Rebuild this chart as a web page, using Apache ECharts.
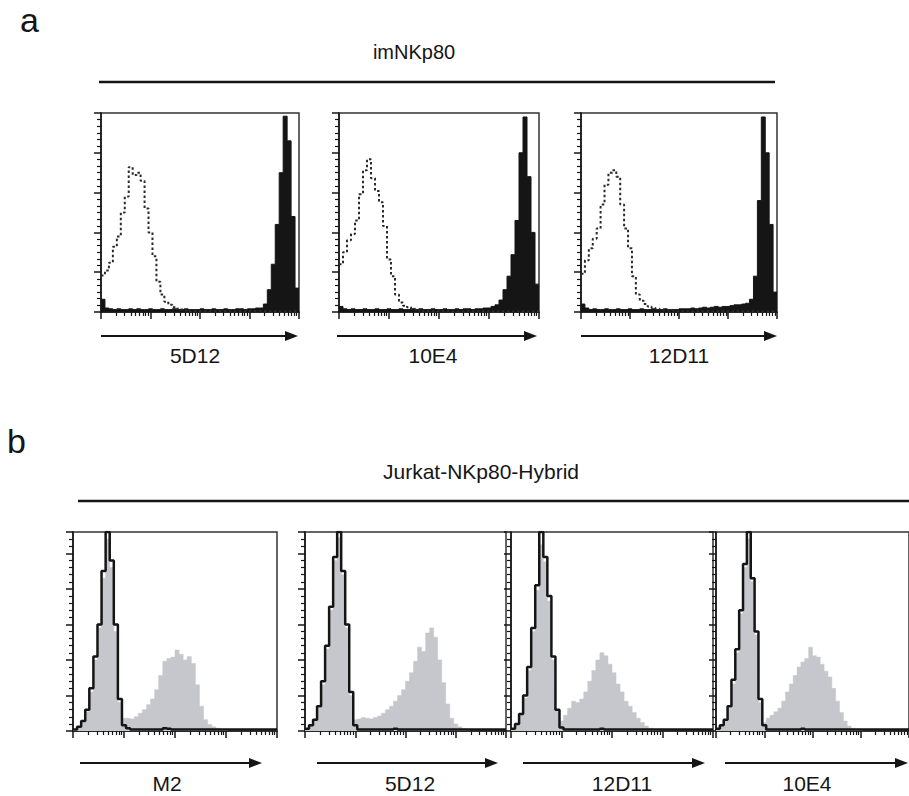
<!DOCTYPE html>
<html>
<head>
<meta charset="utf-8">
<script src="https://cdn.jsdelivr.net/npm/echarts@6/dist/echarts.min.js"></script>
<style>
  html, body { margin: 0; padding: 0; background: #ffffff; }
  #chart { width: 909px; height: 796px; }
</style>
</head>
<body>
<div id="chart"></div>
<script>
// Fluorescence intensity: 4 log decades, 50 channels per histogram
const DECADES = 4;

const groupTitles = ['imNKp80', 'Jurkat-NKp80-Hybrid'];
const panelLetters = ['a', 'b'];
const stainLabelsA = ['5D12', '10E4', '12D11'];
const stainLabelsB = ['M2', '5D12', '12D11', '10E4'];

// Panel a: isotype control (dotted) and mAb staining (filled black), event counts per channel
const im5D12Ctrl = [46,52,62,82,95,125,145,182,172,175,165,130,100,70,38,22,13,9,6,4,3,2,
  1,1,1,1,1,1,1,1,1,1,1,1,1,1,1,1,1,1,1,1,1,1,1,1,1,1,1,1];
const im5D12Stain = [16,5,4,3,4,3,3,4,3,4,3,3,4,3,3,4,3,3,4,3,3,4,3,3,3,4,3,3,4,3,3,4,
  3,3,4,4,3,4,4,5,5,10,28,60,110,175,246,215,120,30];

const im10E4Ctrl = [60,75,90,98,115,148,178,192,168,152,138,108,66,45,22,12,8,6,4,3,2,
  1,1,1,1,1,1,1,1,1,1,1,1,1,1,1,1,1,1,1,1,1,1,1,1,1,1,1,1,1];
const im10E4Stain = [7,4,3,4,3,3,4,3,3,4,3,3,4,3,3,4,3,3,4,3,4,3,3,4,3,3,4,3,3,4,3,4,
  4,3,4,4,5,5,7,9,15,28,45,72,115,200,245,170,100,35];

const im12D11Ctrl = [48,65,80,92,105,135,160,175,178,170,135,105,80,45,22,14,10,7,5,4,3,
  2,2,2,1,1,1,1,1,1,1,1,1,1,1,1,1,1,1,1,1,1,1,1,1,1,1,1,1,1];
const im12D11Stain = [10,5,3,4,3,3,4,3,3,4,3,3,4,3,3,4,3,3,4,3,3,4,3,3,3,4,4,4,5,4,5,6,
  5,6,7,6,7,7,8,9,9,10,11,16,45,140,245,200,110,25];

// Panel b: control (black outline) and mAb staining (grey fill), event counts per channel
const jkM2Ctrl = [2,6,14,30,60,105,150,225,280,240,150,45,8,4,2,2,2,2,2,2,2,2,4,3,
  2,2,2,2,2,2,2,2,2,2,2,2,2,2,2,2,2,2,2,2,2,2,2,2,2,2];
const jkM2Stain = [2,5,12,27,55,100,145,215,270,230,140,40,18,18,17,20,25,30,37,45,58,78,
  98,102,104,114,108,100,105,95,65,35,16,9,6,4,2,1,0,0,0,0,0,0,0,0,0,0,0,0];

const jk5D12Ctrl = [3,8,16,35,70,120,175,245,280,225,150,55,8,2,2,2,2,2,2,2,2,2,3,
  2,2,2,2,2,2,2,2,2,2,2,2,2,2,2,2,2,2,2,2,2,2,2,2,2,2,2];
const jk5D12Stain = [3,7,14,32,65,115,170,240,272,220,145,50,16,17,19,18,17,19,21,25,30,35,
  42,50,58,70,82,98,118,112,138,145,132,100,68,38,18,10,6,3,1,0,0,0,0,0,0,0,0,0];

const jk12D11Ctrl = [3,10,24,50,90,145,205,280,245,190,105,30,5,2,2,2,2,2,2,2,2,2,3,
  2,2,2,2,2,2,2,2,2,2,2,2,2,2,2,2,2,2,2,2,2,2,2,2,2,2,2];
const jk12D11Stain = [3,9,22,46,85,140,198,262,238,183,100,28,14,22,32,42,40,45,55,70,85,100,
  110,106,94,82,66,55,42,35,26,18,12,7,4,2,1,0,0,0,0,0,0,0,0,0,0,0,0,0];

const jk10E4Ctrl = [3,8,16,35,72,115,170,235,280,215,140,45,8,2,2,2,2,2,2,2,2,2,3,
  2,2,2,2,2,2,2,2,2,2,2,2,2,2,2,2,2,2,2,2,2,2,2,2,2,2,2];
const jk10E4Stain = [3,7,14,32,66,110,165,230,270,210,135,40,12,18,22,27,32,42,55,66,78,90,
  97,102,118,106,104,94,84,76,60,42,26,14,7,4,2,1,0,0,0,0,0,0,0,0,0,0,0,0];

// Log-axis minor tick multipliers (2..9 within each decade)
const minorMultipliers = [2, 3, 4, 5, 6, 7, 8, 9];

const INK = '#151515';
const GREY = '#c5c7cc';
const FONT = '"Liberation Sans", Arial, sans-serif';

const panels = [
  { kind: 'a', ctrl: im5D12Ctrl, stain: im5D12Stain, label: stainLabelsA[0],
    grid: { left: 101, top: 113, width: 198, height: 199 }, yMax: 250, minorSplit: 6,
    arrow: { x1: 101, x2: 298, y: 336 }, labelPos: { x: 195, y: 355 } },
  { kind: 'a', ctrl: im10E4Ctrl, stain: im10E4Stain, label: stainLabelsA[1],
    grid: { left: 339, top: 113, width: 200, height: 199 }, yMax: 250, minorSplit: 6,
    arrow: { x1: 337, x2: 537, y: 336 }, labelPos: { x: 433, y: 355 } },
  { kind: 'a', ctrl: im12D11Ctrl, stain: im12D11Stain, label: stainLabelsA[2],
    grid: { left: 581, top: 113, width: 196, height: 199 }, yMax: 250, minorSplit: 6,
    arrow: { x1: 581, x2: 777, y: 336 }, labelPos: { x: 679, y: 355 } },
  { kind: 'b', ctrl: jkM2Ctrl, stain: jkM2Stain, label: stainLabelsB[0],
    grid: { left: 73, top: 532, width: 204, height: 199 }, yMax: 280, minorSplit: 5,
    arrow: { x1: 80, x2: 262, y: 763 }, labelPos: { x: 167, y: 783 } },
  { kind: 'b', ctrl: jk5D12Ctrl, stain: jk5D12Stain, label: stainLabelsB[1],
    grid: { left: 305, top: 532, width: 201, height: 199 }, yMax: 280, minorSplit: 5,
    arrow: { x1: 317, x2: 498, y: 763 }, labelPos: { x: 410, y: 783 } },
  { kind: 'b', ctrl: jk12D11Ctrl, stain: jk12D11Stain, label: stainLabelsB[2],
    grid: { left: 511, top: 532, width: 202, height: 199 }, yMax: 280, minorSplit: 5,
    arrow: { x1: 523, x2: 705, y: 763 }, labelPos: { x: 622, y: 783 } },
  { kind: 'b', ctrl: jk10E4Ctrl, stain: jk10E4Stain, label: stainLabelsB[3],
    grid: { left: 716, top: 532, width: 203, height: 199 }, yMax: 280, minorSplit: 5,
    arrow: { x1: 725, x2: 908, y: 763 }, labelPos: { x: 807, y: 783 } }
];

// Channel left edges plus the closing right edge, drawn as a step histogram
function toSteps(values) {
  const w = DECADES / values.length;
  const pts = values.map((v, i) => [i * w, v]);
  pts.push([DECADES, values[values.length - 1]]);
  return pts;
}

const minorTickValues = [];
for (let d = 0; d < DECADES; d++) {
  minorMultipliers.forEach(m => minorTickValues.push(d + Math.log10(m)));
}

const grid = [], xAxis = [], yAxis = [], series = [], graphic = [];

panels.forEach((p, i) => {
  grid.push(Object.assign({
    show: true, borderColor: '#333', borderWidth: 1.5, backgroundColor: 'transparent'
  }, p.grid));

  // decade ticks
  xAxis.push({
    gridIndex: i, type: 'value', min: 0, max: DECADES, interval: 1, position: 'bottom',
    axisLine: { show: true, onZero: false, lineStyle: { color: INK, width: 1.5 } },
    axisTick: { show: true, length: 7, lineStyle: { color: INK, width: 1.5 } },
    axisLabel: { show: false }, splitLine: { show: false }
  });
  // within-decade ticks
  xAxis.push({
    gridIndex: i, type: 'value', min: 0, max: DECADES, position: 'bottom',
    axisLine: { show: false, onZero: false },
    axisTick: { show: true, length: 4, customValues: minorTickValues,
      lineStyle: { color: INK, width: 1.2 } },
    axisLabel: { show: false }, splitLine: { show: false }
  });
  yAxis.push({
    gridIndex: i, type: 'value', min: 0, max: p.yMax, interval: 50,
    axisLine: { show: true, lineStyle: { color: INK, width: 1.5 } },
    axisTick: { show: true, length: 7, lineStyle: { color: INK, width: 1.5 } },
    minorTick: { show: true, splitNumber: p.minorSplit, length: 4, lineStyle: { color: INK, width: 1.2 } },
    axisLabel: { show: false }, splitLine: { show: false }, minorSplitLine: { show: false }
  });

  if (p.kind === 'a') {
    series.push({
      type: 'line', xAxisIndex: 2 * i, yAxisIndex: i, step: 'end', symbol: 'none',
      data: toSteps(p.stain), silent: true,
      lineStyle: { color: INK, width: 1 },
      areaStyle: { color: INK, opacity: 1 }
    });
    series.push({
      type: 'line', xAxisIndex: 2 * i, yAxisIndex: i, step: 'end', symbol: 'none',
      data: toSteps(p.ctrl), silent: true,
      lineStyle: { color: '#2a2a2a', width: 2, type: [2.5, 2.5] }
    });
  } else {
    series.push({
      type: 'line', xAxisIndex: 2 * i, yAxisIndex: i, step: 'end', symbol: 'none',
      data: toSteps(p.stain), silent: true,
      lineStyle: { color: GREY, width: 0.5 },
      areaStyle: { color: GREY, opacity: 1 }
    });
    series.push({
      type: 'line', xAxisIndex: 2 * i, yAxisIndex: i, step: 'end', symbol: 'none',
      data: toSteps(p.ctrl), silent: true,
      lineStyle: { color: INK, width: 2.5 }
    });
  }

  // axis arrow and antibody label
  const a = p.arrow;
  graphic.push({ type: 'line', shape: { x1: a.x1, y1: a.y, x2: a.x2 - 8, y2: a.y },
    style: { stroke: INK, lineWidth: 1.8 } });
  graphic.push({ type: 'polygon',
    shape: { points: [[a.x2, a.y], [a.x2 - 13, a.y - 5], [a.x2 - 13, a.y + 5]] },
    style: { fill: INK } });
  graphic.push({ type: 'text', x: p.labelPos.x, y: p.labelPos.y,
    style: { text: p.label, font: '21px ' + FONT, fill: INK, textAlign: 'center', textVerticalAlign: 'middle' } });
});

// group headers
graphic.push({ type: 'text', x: 20, y: 20,
  style: { text: panelLetters[0], font: '34px ' + FONT, fill: INK, textAlign: 'left', textVerticalAlign: 'middle' } });
graphic.push({ type: 'text', x: 414, y: 52,
  style: { text: groupTitles[0], font: '20px ' + FONT, fill: INK, textAlign: 'center', textVerticalAlign: 'middle' } });
graphic.push({ type: 'line', shape: { x1: 99, y1: 82, x2: 775, y2: 82 },
  style: { stroke: INK, lineWidth: 2.5 } });

graphic.push({ type: 'text', x: 7, y: 441,
  style: { text: panelLetters[1], font: '34px ' + FONT, fill: INK, textAlign: 'left', textVerticalAlign: 'middle' } });
graphic.push({ type: 'text', x: 481, y: 471,
  style: { text: groupTitles[1], font: '21px ' + FONT, fill: INK, textAlign: 'center', textVerticalAlign: 'middle' } });
graphic.push({ type: 'line', shape: { x1: 78, y1: 501, x2: 909, y2: 501 },
  style: { stroke: INK, lineWidth: 2.5 } });

const chart = echarts.init(document.getElementById('chart'), null, { renderer: 'svg' });
chart.setOption({
  animation: false,
  backgroundColor: '#ffffff',
  grid, xAxis, yAxis, series, graphic
});
</script>
</body>
</html>
